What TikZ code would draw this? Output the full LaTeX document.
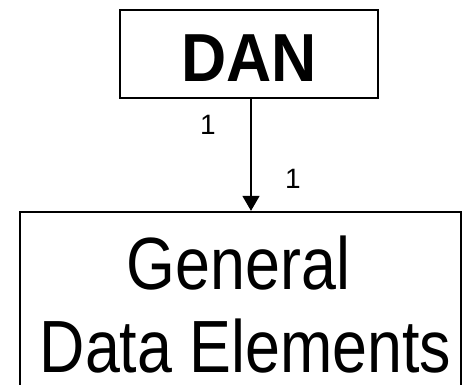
\documentclass[tikz,border=0pt]{standalone}
\usepackage{fontspec}
\setmainfont{Liberation Sans}
\usetikzlibrary{arrows.meta}
\tikzset{
  entity/.style={draw=black, fill=none, inner sep=0pt},
  link/.style={draw=black, line width=1.5pt, -{Triangle[width=17pt,length=15pt]}},
  card/.style={font=\fontsize{28}{28}\selectfont, inner sep=0pt, anchor=base},
  bigtext/.style={anchor=base, inner sep=0pt, font=\fontsize{74}{74}\selectfont}
}
\newcommand{\narrowtext}[2]{\scalebox{#1}[1]{#2}}
\begin{document}
\begin{tikzpicture}[x=1pt, y=-1pt]
  \useasboundingbox (0,0) rectangle (464,385);
  % top entity
  \node[entity, line width=1.5pt, minimum width=258pt, minimum height=88pt] (dan) at (249,54) {};
  \node[anchor=base, inner sep=0pt, font=\fontsize{68}{68}\selectfont\bfseries] (danlabel) at (249,82) {\narrowtext{0.92}{DAN}};
  % lower entity, running past the bottom edge
  \node[entity, line width=2.3pt, minimum width=441pt, minimum height=190pt] (gde) at (240.5,307) {};
  \node[bigtext] (gdeline1) at (238.5,290) {\narrowtext{0.848}{General}};
  \node[bigtext] (gdeline2) at (245.5,373) {\narrowtext{0.848}{Data Elements}};
  % relationship
  \coordinate (top) at ([xshift=2pt]dan.south);
  \draw[link] (top) -- (top |- gde.north);
  \node[card] (c1) at (208,135) {1};
  \node[card] (c2) at (293,189) {1};
\end{tikzpicture}
\end{document}
